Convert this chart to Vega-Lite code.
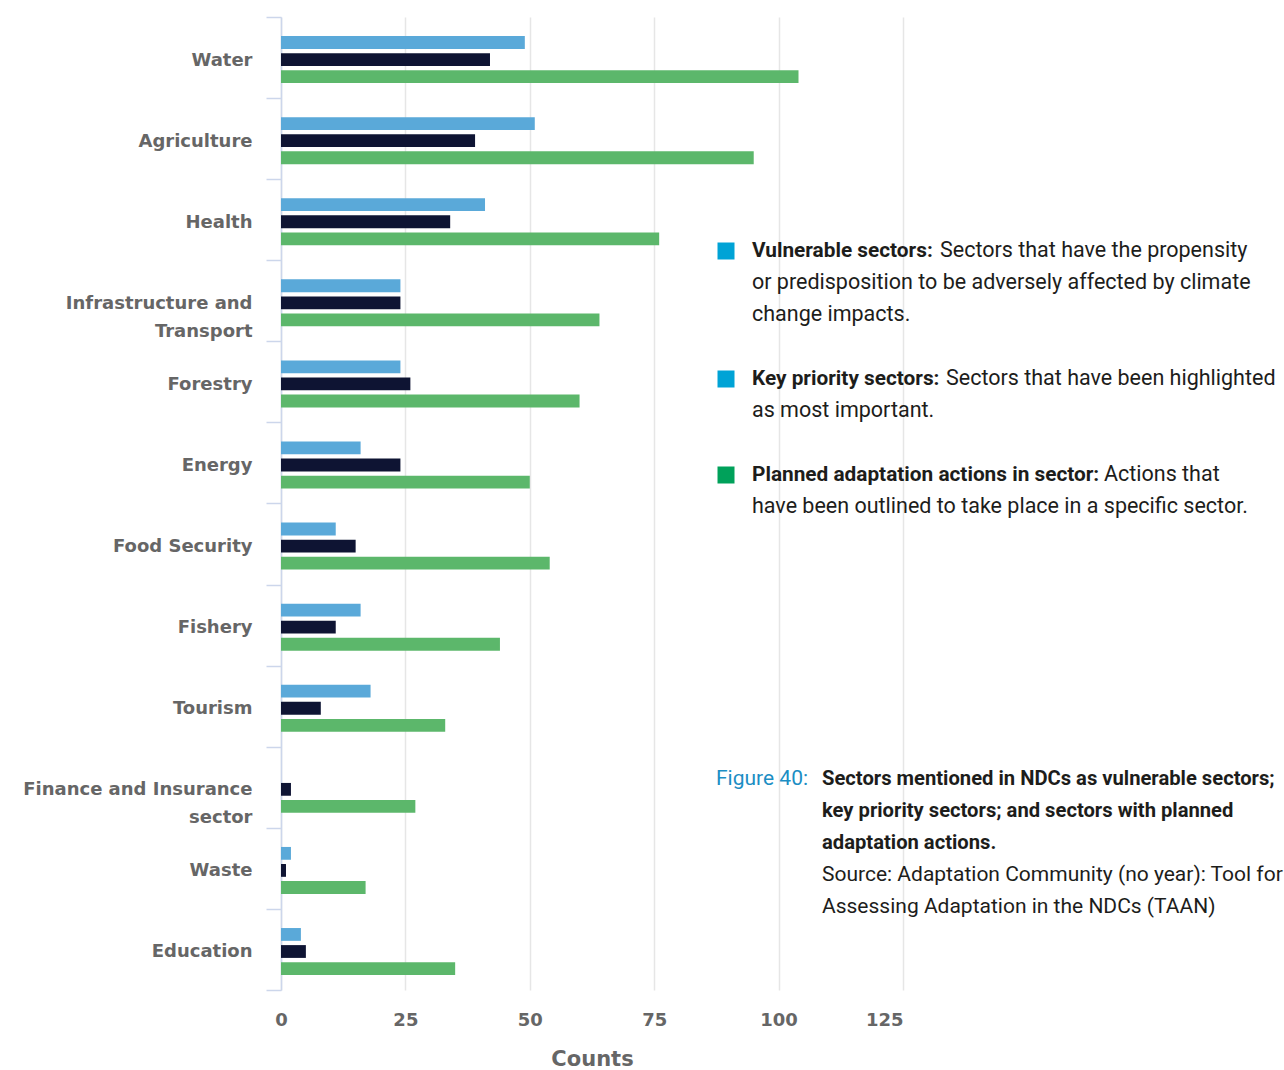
{
  "$schema": "https://vega.github.io/schema/vega-lite/v6.json",
  "autosize": {"type": "none"},
  "width": 622,
  "height": 973,
  "padding": {"left": 281, "top": 17, "right": 381, "bottom": 80},
  "background": "white",
  "config": {"view": {"stroke": null}},
  "datasets": {
    "bars": [
      {"sector": "Water", "series": "Vulnerable sectors", "count": 49},
      {"sector": "Water", "series": "Key priority sectors", "count": 42},
      {"sector": "Water", "series": "Planned adaptation actions in sector", "count": 104},
      {"sector": "Agriculture", "series": "Vulnerable sectors", "count": 51},
      {"sector": "Agriculture", "series": "Key priority sectors", "count": 39},
      {"sector": "Agriculture", "series": "Planned adaptation actions in sector", "count": 95},
      {"sector": "Health", "series": "Vulnerable sectors", "count": 41},
      {"sector": "Health", "series": "Key priority sectors", "count": 34},
      {"sector": "Health", "series": "Planned adaptation actions in sector", "count": 76},
      {"sector": "Infrastructure and Transport", "series": "Vulnerable sectors", "count": 24},
      {"sector": "Infrastructure and Transport", "series": "Key priority sectors", "count": 24},
      {"sector": "Infrastructure and Transport", "series": "Planned adaptation actions in sector", "count": 64},
      {"sector": "Forestry", "series": "Vulnerable sectors", "count": 24},
      {"sector": "Forestry", "series": "Key priority sectors", "count": 26},
      {"sector": "Forestry", "series": "Planned adaptation actions in sector", "count": 60},
      {"sector": "Energy", "series": "Vulnerable sectors", "count": 16},
      {"sector": "Energy", "series": "Key priority sectors", "count": 24},
      {"sector": "Energy", "series": "Planned adaptation actions in sector", "count": 50},
      {"sector": "Food Security", "series": "Vulnerable sectors", "count": 11},
      {"sector": "Food Security", "series": "Key priority sectors", "count": 15},
      {"sector": "Food Security", "series": "Planned adaptation actions in sector", "count": 54},
      {"sector": "Fishery", "series": "Vulnerable sectors", "count": 16},
      {"sector": "Fishery", "series": "Key priority sectors", "count": 11},
      {"sector": "Fishery", "series": "Planned adaptation actions in sector", "count": 44},
      {"sector": "Tourism", "series": "Vulnerable sectors", "count": 18},
      {"sector": "Tourism", "series": "Key priority sectors", "count": 8},
      {"sector": "Tourism", "series": "Planned adaptation actions in sector", "count": 33},
      {"sector": "Finance and Insurance sector", "series": "Vulnerable sectors", "count": 0},
      {"sector": "Finance and Insurance sector", "series": "Key priority sectors", "count": 2},
      {"sector": "Finance and Insurance sector", "series": "Planned adaptation actions in sector", "count": 27},
      {"sector": "Waste", "series": "Vulnerable sectors", "count": 2},
      {"sector": "Waste", "series": "Key priority sectors", "count": 1},
      {"sector": "Waste", "series": "Planned adaptation actions in sector", "count": 17},
      {"sector": "Education", "series": "Vulnerable sectors", "count": 4},
      {"sector": "Education", "series": "Key priority sectors", "count": 5},
      {"sector": "Education", "series": "Planned adaptation actions in sector", "count": 35}
    ],
    "notes": [
      {"block": "legend", "item": "Vulnerable sectors", "line": 0, "part": "term", "text": "Vulnerable sectors:"},
      {"block": "legend", "item": "Vulnerable sectors", "line": 0, "part": "definition-start", "text": "Sectors that have the propensity"},
      {"block": "legend", "item": "Vulnerable sectors", "line": 1, "part": "definition", "text": "or predisposition to be adversely affected by climate"},
      {"block": "legend", "item": "Vulnerable sectors", "line": 2, "part": "definition", "text": "change impacts."},
      {"block": "legend", "item": "Key priority sectors", "line": 4, "part": "term", "text": "Key priority sectors:"},
      {"block": "legend", "item": "Key priority sectors", "line": 4, "part": "definition-start", "text": "Sectors that have been highlighted"},
      {"block": "legend", "item": "Key priority sectors", "line": 5, "part": "definition", "text": "as most important."},
      {"block": "legend", "item": "Planned adaptation actions in sector", "line": 7, "part": "term", "text": "Planned adaptation actions in sector:"},
      {"block": "legend", "item": "Planned adaptation actions in sector", "line": 7, "part": "definition-start", "text": "Actions that"},
      {"block": "legend", "item": "Planned adaptation actions in sector", "line": 8, "part": "definition", "text": "have been outlined to take place in a specific sector."},
      {"block": "caption", "line": 16.5, "part": "figure", "text": "Figure 40:"},
      {"block": "caption", "line": 16.5, "part": "title", "text": "Sectors mentioned in NDCs as vulnerable sectors;"},
      {"block": "caption", "line": 17.5, "part": "title", "text": "key priority sectors; and sectors with planned"},
      {"block": "caption", "line": 18.5, "part": "title", "text": "adaptation actions."},
      {"block": "caption", "line": 19.5, "part": "source", "text": "Source: Adaptation Community (no year): Tool for"},
      {"block": "caption", "line": 20.5, "part": "source", "text": "Assessing Adaptation in the NDCs (TAAN)"}
    ]
  },
  "layer": [
    {
      "data": {"name": "bars"},
      "mark": {"type": "bar"},
      "encoding": {
        "y": {
          "field": "sector",
          "type": "nominal",
          "sort": ["Water", "Agriculture", "Health", "Infrastructure and Transport", "Forestry", "Energy", "Food Security", "Fishery", "Tourism", "Finance and Insurance sector", "Waste", "Education"],
          "scale": {"paddingInner": 0, "paddingOuter": 0},
          "axis": {
            "title": null,
            "domainColor": "#ccd6eb",
            "domainWidth": 1.5,
            "tickColor": "#ccd6eb",
            "tickWidth": 1.5,
            "tickSize": 15,
            "tickBand": "extent",
            "labelPadding": 14,
            "labelOffset": 2.5,
            "labelFont": "DejaVu Sans",
            "labelFontWeight": "bold",
            "labelFontSize": 18,
            "labelColor": "#666666",
            "labelLineHeight": 28,
            "labelLimit": 400,
            "labelExpr": "datum.value == 'Infrastructure and Transport' ? ['Infrastructure and', 'Transport'] : datum.value == 'Finance and Insurance sector' ? ['Finance and Insurance', 'sector'] : datum.value"
          }
        },
        "x": {
          "field": "count",
          "type": "quantitative",
          "scale": {"domain": [0, 125], "nice": false},
          "axis": {
            "title": "Counts",
            "values": [0, 25, 50, 75, 100, 125],
            "grid": true,
            "gridColor": "#e6e6e6",
            "gridWidth": 1.5,
            "domain": false,
            "ticks": false,
            "labelPadding": 21,
            "labelFlush": false,
            "labelAlign": {"condition": {"test": "datum.value == 125", "value": "right"}, "value": "center"},
            "labelFont": "DejaVu Sans",
            "labelFontWeight": "bold",
            "labelFontSize": 18,
            "labelColor": "#666666",
            "titleFont": "DejaVu Sans",
            "titleFontWeight": "bold",
            "titleFontSize": 21,
            "titleColor": "#666666",
            "titlePadding": 19
          }
        },
        "yOffset": {
          "field": "series",
          "type": "nominal",
          "sort": ["Vulnerable sectors", "Key priority sectors", "Planned adaptation actions in sector"],
          "scale": {"paddingInner": 0.25, "paddingOuter": 1.16, "align": 0.56}
        },
        "color": {
          "field": "series",
          "type": "nominal",
          "scale": {
            "domain": ["Vulnerable sectors", "Key priority sectors", "Planned adaptation actions in sector"],
            "range": ["#5aa9d9", "#0e1433", "#5cb76b"]
          },
          "legend": null
        }
      }
    },
    {
      "data": {"name": "notes"},
      "encoding": {
        "y": {
          "field": "line",
          "type": "quantitative",
          "scale": {"domain": [-7.3125, 23.09375], "reverse": true, "nice": false, "zero": false},
          "axis": null
        }
      },
      "layer": [
        {
          "transform": [{"filter": "datum.part == 'term' && datum.item != 'Planned adaptation actions in sector'"}],
          "mark": {"type": "point", "shape": "square", "filled": true, "size": 289, "color": "#00a3d6", "opacity": 1},
          "encoding": {"x": {"datum": 89.43, "type": "quantitative"}}
        },
        {
          "transform": [{"filter": "datum.part == 'term' && datum.item == 'Planned adaptation actions in sector'"}],
          "mark": {"type": "point", "shape": "square", "filled": true, "size": 289, "color": "#00a15a", "opacity": 1},
          "encoding": {"x": {"datum": 89.43, "type": "quantitative"}}
        },
        {
          "transform": [{"filter": "datum.part == 'term'"}],
          "mark": {"type": "text", "align": "left", "baseline": "middle", "font": "Roboto", "fontSize": 20.8, "fontWeight": "bold", "color": "#1d1d1b"},
          "encoding": {"x": {"datum": 94.65, "type": "quantitative"}, "text": {"field": "text"}}
        },
        {
          "transform": [{"filter": "datum.part == 'definition'"}],
          "mark": {"type": "text", "align": "left", "baseline": "middle", "font": "Roboto", "fontSize": 21.5, "color": "#1d1d1b"},
          "encoding": {"x": {"datum": 94.65, "type": "quantitative"}, "text": {"field": "text"}}
        },
        {
          "transform": [{"filter": "datum.part == 'definition-start' && datum.item == 'Vulnerable sectors'"}],
          "mark": {"type": "text", "align": "left", "baseline": "middle", "font": "Roboto", "fontSize": 21.5, "color": "#1d1d1b", "dx": 188},
          "encoding": {"x": {"datum": 94.65, "type": "quantitative"}, "text": {"field": "text"}}
        },
        {
          "transform": [{"filter": "datum.part == 'definition-start' && datum.item == 'Key priority sectors'"}],
          "mark": {"type": "text", "align": "left", "baseline": "middle", "font": "Roboto", "fontSize": 21.5, "color": "#1d1d1b", "dx": 194},
          "encoding": {"x": {"datum": 94.65, "type": "quantitative"}, "text": {"field": "text"}}
        },
        {
          "transform": [{"filter": "datum.part == 'definition-start' && datum.item == 'Planned adaptation actions in sector'"}],
          "mark": {"type": "text", "align": "left", "baseline": "middle", "font": "Roboto", "fontSize": 21.5, "color": "#1d1d1b", "dx": 352},
          "encoding": {"x": {"datum": 94.65, "type": "quantitative"}, "text": {"field": "text"}}
        },
        {
          "transform": [{"filter": "datum.part == 'figure'"}],
          "mark": {"type": "text", "align": "left", "baseline": "middle", "font": "Roboto", "fontSize": 21, "color": "#1c8ec4"},
          "encoding": {"x": {"datum": 87.42, "type": "quantitative"}, "text": {"field": "text"}}
        },
        {
          "transform": [{"filter": "datum.part == 'title'"}],
          "mark": {"type": "text", "align": "left", "baseline": "middle", "font": "Roboto", "fontSize": 20.2, "fontWeight": "bold", "color": "#1d1d1b"},
          "encoding": {"x": {"datum": 108.72, "type": "quantitative"}, "text": {"field": "text"}}
        },
        {
          "transform": [{"filter": "datum.part == 'source'"}],
          "mark": {"type": "text", "align": "left", "baseline": "middle", "font": "Roboto", "fontSize": 21, "color": "#1d1d1b"},
          "encoding": {"x": {"datum": 108.72, "type": "quantitative"}, "text": {"field": "text"}}
        }
      ]
    }
  ],
  "resolve": {"scale": {"y": "independent"}}
}
